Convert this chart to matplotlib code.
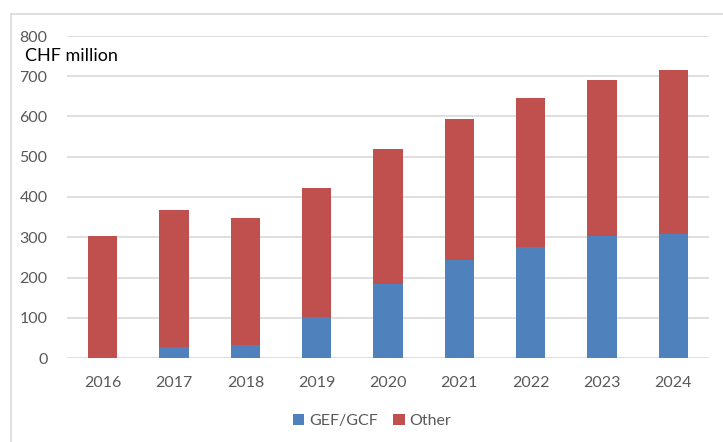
import numpy as np
import matplotlib
matplotlib.use("Agg")
from matplotlib import pyplot as plt
from matplotlib.lines import Line2D

# data (CHF million)
years = ["2016", "2017", "2018", "2019", "2020", "2021", "2022", "2023", "2024"]
gef_gcf = [0, 27, 32, 102, 184, 244, 276, 303, 308]
totals = [302, 367, 348, 422, 520, 594, 647, 691, 716]
other = [t - g for t, g in zip(totals, gef_gcf)]

plt.rcParams['font.family'] = ['Lato', 'DejaVu Sans']

fig = plt.figure(figsize=(7.23, 4.42), dpi=100)
W, H = 723, 442
ax = fig.add_axes([67 / W, 1 - 358 / H, (709 - 67) / W, (358 - 36) / H])

x = np.arange(len(years))
ax.bar(x, gef_gcf, width=0.41, color="#4F81BD", label="GEF/GCF", zorder=3)
ax.bar(x, other, width=0.41, bottom=gef_gcf, color="#C0504D", label="Other", zorder=3)

ax.set_xlim(-0.5, len(years) - 0.5)
ax.set_ylim(0, 800)
ax.set_yticks(range(0, 801, 100))
ax.set_xticks(x)
ax.set_xticklabels(years)
ax.yaxis.grid(True, color="#D9D9D9", linewidth=1.2, zorder=0)
ax.set_axisbelow(True)
for s in ax.spines.values():
    s.set_visible(False)
ax.tick_params(axis="both", length=0, labelsize=11.5, colors="#595959")
ax.tick_params(axis="y", pad=14)
ax.tick_params(axis="x", pad=13)

fig.text(25 / W, 1 - 56 / H, "CHF million", fontsize=13, color="black", va="center", ha="left")

ax.legend(loc="center", bbox_to_anchor=(372 / W, 1 - 421 / H), bbox_transform=fig.transFigure,
          ncol=2, frameon=False, fontsize=11.5, handlelength=0.7, handleheight=0.7,
          handletextpad=0.3, columnspacing=1.0, labelcolor="#595959")

# outer chart border (cropped on right and bottom)
fig.add_artist(Line2D([11 / W, 11 / W], [0, 1 - 14 / H], transform=fig.transFigure, color="#D9D9D9", lw=1.2))
fig.add_artist(Line2D([11 / W, 1], [1 - 14 / H, 1 - 14 / H], transform=fig.transFigure, color="#D9D9D9", lw=1.2))

fig.savefig("out.png", dpi=100)
